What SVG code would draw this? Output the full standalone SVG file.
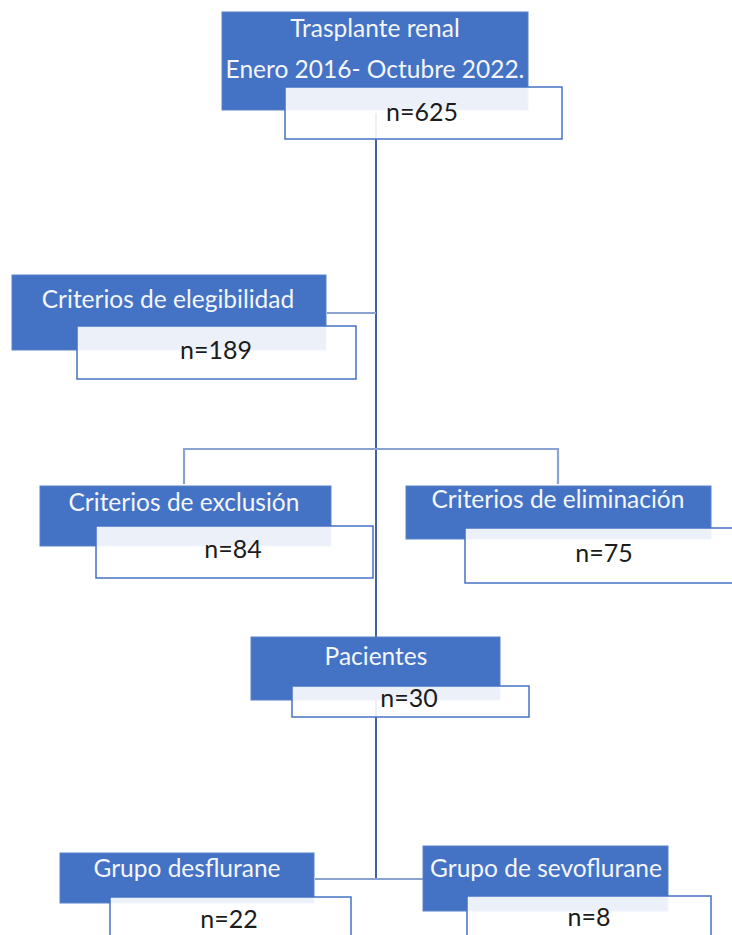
<svg xmlns="http://www.w3.org/2000/svg" width="732" height="935" viewBox="0 0 732 935">
<style>
.hd{fill:#4472c4;stroke:#5a82c9;stroke-width:1}
.nb{fill:#ffffff;fill-opacity:0.9;stroke:#4472c4;stroke-width:1.5}
.tw{font-family:Lato,"Liberation Sans",sans-serif;font-size:24.5px;fill:#f4f6fb;text-anchor:middle}
.tk{font-family:Lato,"Liberation Sans",sans-serif;font-size:25px;fill:#1c1c1c;text-anchor:middle}
.main{stroke:#2f5096;stroke-width:1.8;fill:none}
.br{stroke:#8aa3d2;stroke-width:2.2;fill:none}
</style>
<rect width="732" height="935" fill="#ffffff"/>
<g id="connectors">
<line class="main" x1="376" y1="113" x2="376" y2="879"/>
<line class="br" x1="327" y1="313" x2="376" y2="313"/>
<polyline class="br" points="184,484 184,449 558,449 558,484"/>
<line class="br" x1="315" y1="879" x2="423" y2="879"/>
</g>
<g id="trasplante">
<rect class="hd" x="222" y="12" width="306" height="98"/>
<rect class="nb" x="285" y="87" width="277" height="52"/>
<text class="tw" x="375" y="37">Trasplante renal</text>
<text class="tw" x="375" y="78">Enero 2016- Octubre 2022.</text>
<text class="tk" x="422" y="121">n=625</text>
</g>
<g id="elegibilidad">
<rect class="hd" x="12" y="275" width="314" height="75"/>
<rect class="nb" x="77" y="326" width="279" height="53"/>
<text class="tw" x="168" y="308">Criterios de elegibilidad</text>
<text class="tk" x="216" y="359">n=189</text>
</g>
<g id="exclusion">
<rect class="hd" x="40" y="486" width="291" height="60"/>
<rect class="nb" x="96" y="526" width="277" height="52"/>
<text class="tw" x="184" y="511">Criterios de exclusión</text>
<text class="tk" x="233" y="558">n=84</text>
</g>
<g id="eliminacion">
<rect class="hd" x="406" y="486" width="305" height="53"/>
<rect class="nb" x="465" y="528" width="270" height="55"/>
<text class="tw" x="558" y="508">Criterios de eliminación</text>
<text class="tk" x="604" y="562">n=75</text>
</g>
<g id="pacientes">
<rect class="hd" x="251" y="637" width="249" height="63"/>
<rect class="nb" x="292" y="686" width="237" height="31"/>
<text class="tw" x="376" y="665">Pacientes</text>
<text class="tk" x="409" y="707">n=30</text>
</g>
<g id="desflurane">
<rect class="hd" x="60" y="853" width="254" height="50"/>
<rect class="nb" x="110" y="897" width="241" height="50"/>
<text class="tw" x="187" y="877">Grupo desflurane</text>
<text class="tk" x="229" y="928">n=22</text>
</g>
<g id="sevoflurane">
<rect class="hd" x="423" y="846" width="245" height="65"/>
<rect class="nb" x="467" y="896" width="244" height="50"/>
<text class="tw" x="546" y="877">Grupo de sevoflurane</text>
<text class="tk" x="589" y="926">n=8</text>
</g>
</svg>
